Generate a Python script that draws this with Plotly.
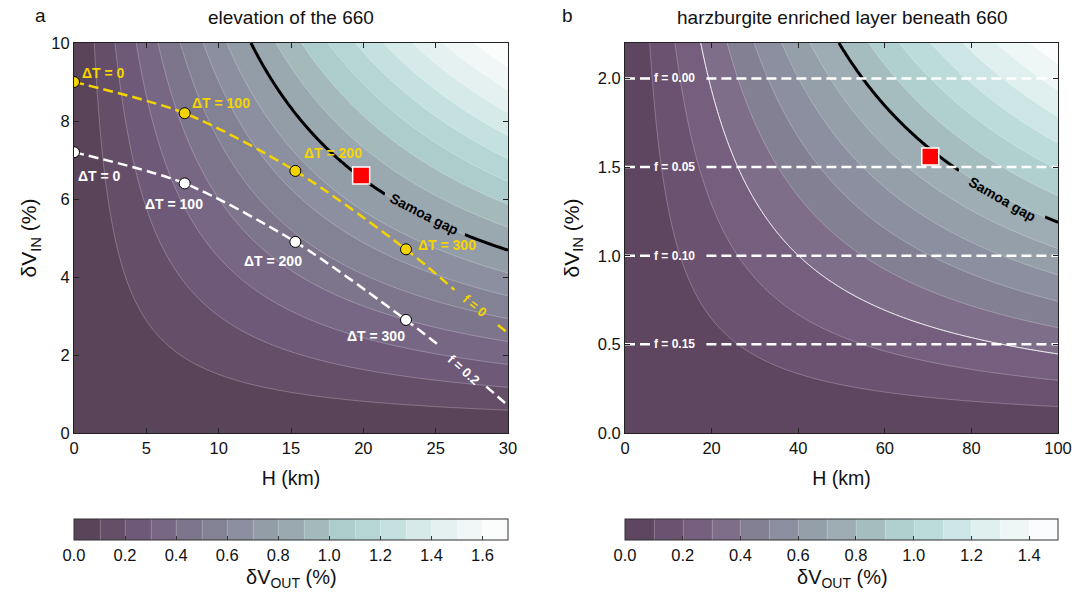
import numpy as np
import plotly.graph_objects as go

# ---------------------------------------------------------------------------
# Data
# ---------------------------------------------------------------------------
# Model parameters: dV_OUT = amp * dV_IN * (1 - exp(-H / lam))
amp_a, lam_a = 0.4337, 60.0      # panel a (elevated 660)
amp_b, lam_b = 2.174, 270.0      # panel b (harzburgite layer)
samoa_level = 0.8                # observed dV_OUT for the Samoa gap

# Panel a: temperature-anomaly paths (H in km, dV_IN in %)
dT_labels = ["ΔT = 0", "ΔT = 100", "ΔT = 200", "ΔT = 300"]
f0_H = [0.0, 7.65, 15.3, 22.95]
f0_V = [9.0, 8.2, 6.72, 4.71]
f02_H = [0.0, 7.65, 15.3, 22.95]
f02_V = [7.2, 6.4, 4.9, 2.9]
# dashed continuations beyond ΔT = 300 (split around the in-line labels)
f0_tail1_H, f0_tail1_V = [22.95, 26.3], [4.71, 3.67]
f0_tail2_H, f0_tail2_V = [29.3, 29.95], [2.77, 2.58]
f02_tail1_H, f02_tail1_V = [22.95, 25.35], [2.9, 2.21]
f02_tail2_H, f02_tail2_V = [28.5, 29.95], [1.19, 0.72]

samoa_a = (19.85, 6.6)
samoa_b = (70.5, 1.56)

# Panel b: harzburgite fraction lines
f_levels_V = [2.0, 1.5, 1.0, 0.5]
f_levels_txt = ["f = 0.00", "f = 0.05", "f = 0.10", "f = 0.15"]

# Colour bins (one colour per 0.1 % band)
bins_a = ["#5a4459", "#654e68", "#6f5978", "#776785", "#7d758b", "#838194",
          "#8b8f9f", "#939da8", "#9aa9b0", "#a3b9ba", "#accdcc", "#b5d6d5",
          "#c4e1df", "#d5eae9", "#e4f1f0", "#f0f7f6", "#fbfdfd"]
bins_b = ["#5e4560", "#6b5270", "#765e7f", "#7e6e8a", "#838093", "#8b8f9f",
          "#949fa9", "#9eadb3", "#a6bdbf", "#b0d0d0", "#bcdcdb", "#cde6e5",
          "#dff0ef", "#eef7f6", "#fafcfd"]

# ---------------------------------------------------------------------------
W, Hpx = 1089, 594
FONT = "Liberation Sans, Arial, Helvetica, sans-serif"
YEL = "#f4d400"

def px_x(p):
    return p / W

def px_y(p):
    return 1 - p / Hpx

def field(H, V, amp, lam):
    HH, VV = np.meshgrid(H, V)
    return amp * VV * (1 - np.exp(-HH / lam))

def scale_from(colors):
    n = len(colors)
    return [[k / (n - 1), c] for k, c in enumerate(colors)]

Ha = np.linspace(0, 30, 301)
Va = np.linspace(0, 10, 251)
Hb = np.linspace(0, 100, 301)
Vb = np.linspace(0, 2.2, 251)
Za = field(Ha, Va, amp_a, lam_a)
Zb = field(Hb, Vb, amp_b, lam_b)

fig = go.Figure()

thin = dict(color="rgba(255,255,255,0.42)", width=0.6)

def cbar(x0, length, ticks):
    return dict(orientation="h", x=px_x(x0), xanchor="left", len=length / W,
                y=px_y(519), yanchor="top", thickness=21, xpad=0, ypad=0,
                outlinewidth=1, outlinecolor="#333",
                tickvals=ticks, ticktext=["%.1f" % t for t in ticks],
                ticks="inside", ticklen=4, tickcolor="#333",
                tickfont=dict(size=16.5, color="#111"))

fig.add_trace(go.Contour(
    x=Ha, y=Va, z=Za, xaxis="x", yaxis="y",
    colorscale=scale_from(bins_a), zmin=0, zmax=1.7,
    contours=dict(start=0.1, end=1.6, size=0.1, coloring="fill", showlines=True),
    line=thin, hoverinfo="skip",
    colorbar=cbar(74, 434, [0, 0.2, 0.4, 0.6, 0.8, 1.0, 1.2, 1.4, 1.6])))

fig.add_trace(go.Contour(
    x=Hb, y=Vb, z=Zb, xaxis="x2", yaxis="y2",
    colorscale=scale_from(bins_b), zmin=0, zmax=1.5,
    contours=dict(start=0.1, end=1.4, size=0.1, coloring="fill", showlines=True),
    line=thin, hoverinfo="skip",
    colorbar=cbar(625, 433, [0, 0.2, 0.4, 0.6, 0.8, 1.0, 1.2, 1.4])))

# brighter 0.3 contour in panel b
fig.add_trace(go.Contour(
    x=Hb, y=Vb, z=Zb, xaxis="x2", yaxis="y2", showscale=False,
    contours=dict(start=0.3, end=0.3, size=1, coloring="none"),
    line=dict(color="rgba(255,255,255,0.9)", width=1), hoverinfo="skip"))

# Samoa gap iso-line, interrupted where its label sits
def samoa_segment(H, V, amp, lam, lo, hi, xa, ya):
    Hs = H[(H >= lo) & (H <= hi)]
    fig.add_trace(go.Contour(
        x=Hs, y=V, z=field(Hs, V, amp, lam), xaxis=xa, yaxis=ya, showscale=False,
        contours=dict(start=samoa_level, end=samoa_level, size=1, coloring="none"),
        line=dict(color="black", width=3), hoverinfo="skip"))

Ha_f = np.linspace(0, 30, 601)
Hb_f = np.linspace(0, 100, 801)
samoa_segment(Ha_f, Va, amp_a, lam_a, 0, 21.5, "x", "y")
samoa_segment(Ha_f, Va, amp_a, lam_a, 27.0, 30, "x", "y")
samoa_segment(Hb_f, Vb, amp_b, lam_b, 0, 77.2, "x2", "y2")
samoa_segment(Hb_f, Vb, amp_b, lam_b, 97.0, 100, "x2", "y2")

dash = "10px,5px"

def dashed(xs, ys, color, xa="x", ya="y"):
    fig.add_trace(go.Scatter(x=xs, y=ys, mode="lines", xaxis=xa, yaxis=ya,
                             line=dict(color=color, width=2.5, dash=dash,
                                       shape="spline", smoothing=0.8),
                             hoverinfo="skip", showlegend=False))

# panel a dashed paths
dashed(f02_H + f02_tail1_H[1:], f02_V + f02_tail1_V[1:], "white")
dashed(f02_tail2_H, f02_tail2_V, "white")
dashed(f0_H + f0_tail1_H[1:], f0_V + f0_tail1_V[1:], YEL)
dashed(f0_tail2_H, f0_tail2_V, YEL)

fig.add_trace(go.Scatter(x=f02_H, y=f02_V, mode="markers", xaxis="x", yaxis="y",
                         marker=dict(size=11, color="white", line=dict(color="black", width=1)),
                         hoverinfo="skip", showlegend=False))
fig.add_trace(go.Scatter(x=f0_H, y=f0_V, mode="markers", xaxis="x", yaxis="y",
                         marker=dict(size=11, color=YEL, line=dict(color="black", width=1)),
                         hoverinfo="skip", showlegend=False))

# panel b horizontal f lines (gap for the label)
for v in f_levels_V:
    dashed([0, 6.0], [v, v], "white", "x2", "y2")
    dashed([18.8, 100], [v, v], "white", "x2", "y2")

# red squares
for (h, v), xa, ya in [(samoa_a, "x", "y"), (samoa_b, "x2", "y2")]:
    fig.add_trace(go.Scatter(x=[h], y=[v], mode="markers", xaxis=xa, yaxis=ya,
                             marker=dict(symbol="square", size=17, color="#ff0000",
                                         line=dict(color="white", width=1.5)),
                             hoverinfo="skip", showlegend=False))

ann = []

def label(x, y, text, color, xa="x", ya="y", size=14, angle=0, xanchor="center"):
    ann.append(dict(x=x, y=y, xref=xa, yref=ya, text="<b>%s</b>" % text, showarrow=False,
                    font=dict(size=size, color=color, family=FONT), textangle=angle,
                    xanchor=xanchor, yanchor="middle"))

# ΔT labels
yel_pos = [(0.39, 9.24), (8.0, 8.45), (15.74, 7.17), (23.66, 4.82)]
wht_pos = [(1.76, 6.59), (6.88, 5.87), (13.76, 4.41), (20.88, 2.49)]
for t, (x, y) in zip(dT_labels, yel_pos):
    label(x, y, t, YEL, xanchor="left")
for t, (x, y) in zip(dT_labels, wht_pos):
    label(x, y, t, "white")

label(27.7, 3.28, "f = 0", YEL, angle=40, size=13)
label(26.9, 1.62, "f = 0.2", "white", angle=42, size=13)
label(24.2, 5.62, "Samoa gap", "black", angle=27)
label(87.1, 1.32, "Samoa gap", "black", xa="x2", ya="y2", angle=30)
for v, t in zip(f_levels_V, f_levels_txt):
    label(11.5, v, t, "white", xa="x2", ya="y2", size=12)

def paper_text(x, y, text, size):
    ann.append(dict(x=px_x(x), y=px_y(y), xref="paper", yref="paper", showarrow=False,
                    xanchor="center", yanchor="middle", text=text,
                    font=dict(size=size, color="#111", family=FONT)))

# titles, panel letters, colour-bar titles
paper_text(291, 17, "elevation of the 660", 19)
paper_text(842, 17, "harzburgite enriched layer beneath 660", 19)
paper_text(40, 15, "a", 19)
paper_text(567, 15, "b", 19)
paper_text(291, 578, "δV<sub>OUT</sub> (%)", 20)
paper_text(842, 578, "δV<sub>OUT</sub> (%)", 20)

axis_common = dict(showgrid=False, zeroline=False, showline=True, linecolor="#222",
                   linewidth=1, mirror="ticks", ticks="inside", ticklen=5,
                   tickcolor="#222", tickfont=dict(size=16.5, color="#111"))

fig.update_layout(
    width=W, height=Hpx, margin=dict(l=0, r=0, t=0, b=0, autoexpand=False),
    paper_bgcolor="white", plot_bgcolor="white",
    font=dict(family=FONT, color="#111"), showlegend=False,
    annotations=ann,
    xaxis=dict(domain=[px_x(74), px_x(508)], range=[0, 30], anchor="y",
               tickvals=[0, 5, 10, 15, 20, 25, 30],
               title=dict(text="H (km)", font=dict(size=19.5), standoff=15), **axis_common),
    yaxis=dict(domain=[px_y(433), px_y(43)], range=[0, 10], anchor="x",
               tickvals=[0, 2, 4, 6, 8, 10],
               title=dict(text="δV<sub>IN</sub> (%)", font=dict(size=21), standoff=8), **axis_common),
    xaxis2=dict(domain=[px_x(625), px_x(1058)], range=[0, 100], anchor="y2",
                tickvals=[0, 20, 40, 60, 80, 100],
                title=dict(text="H (km)", font=dict(size=19.5), standoff=15), **axis_common),
    yaxis2=dict(domain=[px_y(433), px_y(43)], range=[0, 2.2], anchor="x2",
                tickvals=[0, 0.5, 1.0, 1.5, 2.0], tickformat=".1f",
                title=dict(text="δV<sub>IN</sub> (%)", font=dict(size=21), standoff=12), **axis_common),
)

fig.write_html("out.html")
